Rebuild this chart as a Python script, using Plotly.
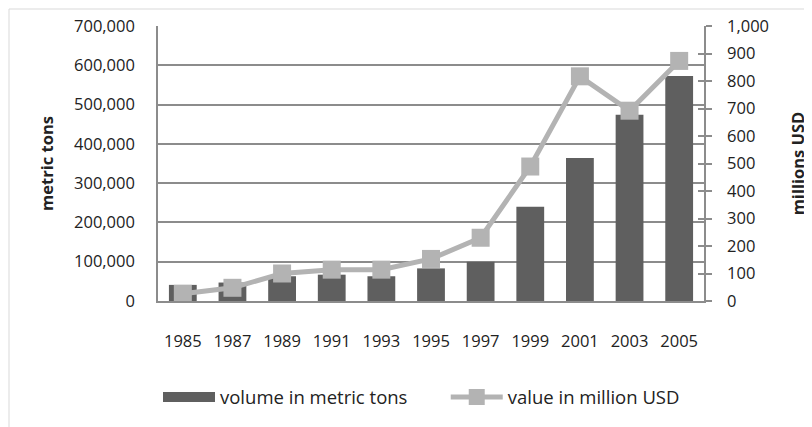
import plotly.graph_objects as go

years = ["1985", "1987", "1989", "1991", "1993", "1995", "1997", "1999", "2001", "2003", "2005"]
volume_tons = [41000, 47000, 63000, 67000, 63000, 83000, 100000, 240000, 364000, 474000, 573000]
value_musd = [26, 48, 100, 114, 114, 153, 230, 489, 817, 692, 873]

FONT = "Open Sans"
TXT = "#222222"
GRID = "#8c8c8c"
BAR = "#5f5f5f"
LINE = "#b3b3b3"
# page has an 8px body margin, so the figure is drawn 8px in from the top-left
W, H = 804, 419
ML, MR, MT, MB = 150, 108, 18, 126

fig = go.Figure()
fig.add_trace(go.Bar(
    x=years, y=volume_tons, name="volume in metric tons",
    marker=dict(color=BAR, line=dict(width=0)), yaxis="y", showlegend=False,
))
# legend-only swatch for the bars (wide dark rectangle like the reference)
fig.add_trace(go.Scatter(
    x=[None], y=[None], name="volume in metric tons", mode="lines",
    line=dict(color=BAR, width=11), yaxis="y", hoverinfo="skip", legend="legend",
))
fig.add_trace(go.Scatter(
    x=years, y=value_musd, name="value in million USD", yaxis="y2",
    mode="lines+markers",
    line=dict(color=LINE, width=5),
    marker=dict(symbol="square", size=18, color=LINE), legend="legend2",
))
# invisible trace to anchor the inner half of the right-axis tick marks
fig.add_trace(go.Scatter(x=[None], y=[None], yaxis="y3", showlegend=False, hoverinfo="skip"))

leg_common = dict(orientation="h", xanchor="left", y=-0.351, yanchor="middle",
                  font=dict(family=FONT, size=18.5, color=TXT),
                  itemwidth=52, bgcolor="rgba(0,0,0,0)")

fig.update_layout(
    width=W, height=H,
    margin=dict(l=ML, r=MR, t=MT, b=MB, autoexpand=False),
    paper_bgcolor="white", plot_bgcolor="white",
    font=dict(family=FONT, size=16.5, color=TXT),
    bargap=0.44,
    showlegend=True,
    legend=dict(x=0.0, **leg_common),
    legend2=dict(x=0.527, **leg_common),
    xaxis=dict(type="category", range=[-0.5, len(years) - 0.5],
               showgrid=False, showline=True, linecolor=GRID, linewidth=1.5,
               ticks="", ticklabelstandoff=24, tickfont=dict(size=16.5, color=TXT),
               automargin=False),
    yaxis=dict(range=[0, 700000], dtick=100000, tickformat=",",
               showgrid=True, gridcolor=GRID, gridwidth=1.5,
               showline=True, linecolor=GRID, linewidth=1.5,
               ticks="", ticklabelstandoff=18, zeroline=False, automargin=False,
               tickfont=dict(size=16.5, color=TXT),
               title=dict(text="<b>metric tons</b>", font=dict(size=16.5, color=TXT), standoff=16)),
    yaxis2=dict(range=[0, 1000], dtick=100, tickformat=",", overlaying="y", side="right",
                showgrid=False, showline=True, linecolor=GRID, linewidth=1.5,
                ticks="outside", ticklen=6, tickcolor=GRID, tickwidth=1.5, automargin=False,
                ticklabelstandoff=12, zeroline=False, tickfont=dict(size=16.5, color=TXT),
                title=dict(text="<b>millions USD</b>", font=dict(size=16.5, color=TXT), standoff=24)),
    yaxis3=dict(range=[0, 1000], dtick=100, overlaying="y", side="right", automargin=False,
                showgrid=False, showline=False, zeroline=False, showticklabels=False,
                ticks="inside", ticklen=6, tickcolor=GRID, tickwidth=1.5),
    shapes=[dict(type="rect", xref="paper", yref="paper",
                 x0=-(ML - 1) / (W - ML - MR), x1=(W - ML + 7) / (W - ML - MR),
                 y0=-(MB + 7) / (H - MT - MB), y1=(H - MB - 1) / (H - MT - MB),
                 line=dict(color="#d9d9d9", width=1), fillcolor="rgba(0,0,0,0)", layer="below")],
)

fig.write_html("out.html")
